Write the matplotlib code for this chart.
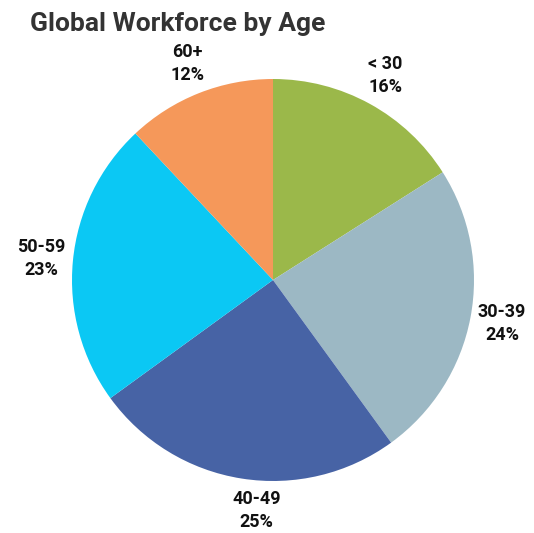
#!/usr/bin/env python3

import matplotlib
matplotlib.use("Agg")
import matplotlib.pyplot as plt

# Data
age_groups = ["< 30", "30-39", "40-49", "50-59", "60+"]
shares = [16, 24, 25, 23, 12]
slice_colors = ["#9bb84a", "#9cb8c4", "#4763a5", "#0bc8f4", "#f5985a"]

plt.rcParams["font.family"] = ["Roboto", "DejaVu Sans"]


def main():
    fig = plt.figure(figsize=(5.34, 5.33), dpi=100)

    # axes box matches the pie circle in pixels
    ax = fig.add_axes([72 / 534, 52 / 533, 402 / 534, 402 / 533])
    labels = [f"{g}\n{s}%" for g, s in zip(age_groups, shares)]
    wedges, texts = ax.pie(
        shares,
        colors=slice_colors,
        startangle=90,
        counterclock=False,
        labels=labels,
        labeldistance=1.16,
        wedgeprops={"linewidth": 0},
        textprops={"fontsize": 13, "fontweight": "bold", "color": "#111111",
                   "linespacing": 1.35},
    )
    for t in texts:
        t.set_horizontalalignment("center")
        t.set_verticalalignment("center")
    # bottom label sits a bit closer to the vertical axis in the reference
    texts[2].set_x(texts[2].get_position()[0] * 0.45)
    ax.set_xlim(-1, 1)
    ax.set_ylim(-1, 1)
    ax.axis("off")

    fig.text(30 / 534, 1 - 31 / 533, "Global Workforce by Age",
             fontsize=19, fontweight="bold", color="#333333",
             ha="left", va="baseline")

    fig.savefig("out.png", dpi=100)


if __name__ == "__main__":
    main()
